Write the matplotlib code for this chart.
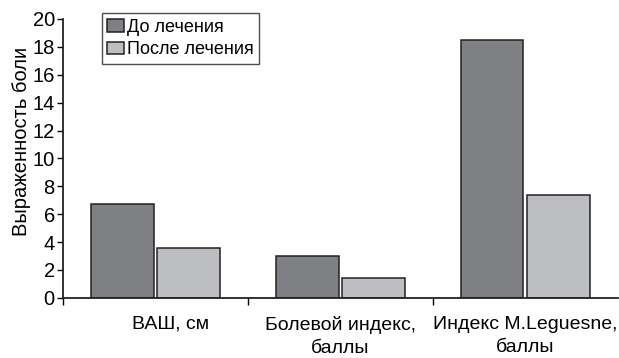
import numpy as np
import matplotlib.pyplot as plt

plt.rcParams['font.family'] = ['Liberation Sans', 'DejaVu Sans']

# Значения выраженности боли
categories = ['ВАШ, см', 'Болевой индекс,\nбаллы', 'Индекс M.Leguesne,\nбаллы']
before = [6.7, 3.0, 18.5]
after = [3.6, 1.4, 7.4]
series_names = ['До лечения', 'После лечения']
yticks = [0, 2, 4, 6, 8, 10, 12, 14, 16, 18, 20]

fig = plt.figure(figsize=(6.19, 3.58), dpi=100)
ax = fig.add_axes([0.102, 0.168, 0.896, 0.779])

x = np.arange(len(categories)) + 0.5
w = 0.34
ax.bar(x - w / 2 - 0.01, before, w, color='#7f8084', edgecolor='#222222',
       linewidth=1.1, label=series_names[0])
ax.bar(x + w / 2 + 0.01, after, w, color='#bdbec1', edgecolor='#222222',
       linewidth=1.1, label=series_names[1])

ax.set_xlim(0, 3)
ax.set_ylim(0, 20)
ax.set_yticks(yticks)
ax.tick_params(axis='y', labelsize=14.5, length=4, width=1, direction='out', pad=2)

# деления на границах категорий, подписи по центру
ax.set_xticks([0, 1, 2])
ax.set_xticklabels([])
ax.set_xticks(x + np.array([0.08, 0, 0]), minor=True)
ax.set_xticklabels(categories, minor=True, fontsize=14, linespacing=1.45)
ax.tick_params(axis='x', which='major', length=5, width=1, direction='out')
ax.tick_params(axis='x', which='minor', length=0, pad=13)

for s in ['top', 'right']:
    ax.spines[s].set_visible(False)
for s in ['left', 'bottom']:
    ax.spines[s].set_linewidth(1.3)
    ax.spines[s].set_color('#222222')

ax.set_ylabel('Выраженность боли', fontsize=14.5)
ax.yaxis.set_label_coords(-0.058, 0.56)

leg = ax.legend(loc='upper left', bbox_to_anchor=(0.07, 1.02), fontsize=13,
                frameon=True, fancybox=False, edgecolor='#222222',
                handlelength=0.9, handleheight=0.7, handletextpad=0.2,
                borderpad=0.3, labelspacing=0.3, borderaxespad=0)
leg.get_frame().set_linewidth(1.0)

fig.savefig('out.png', dpi=100)
